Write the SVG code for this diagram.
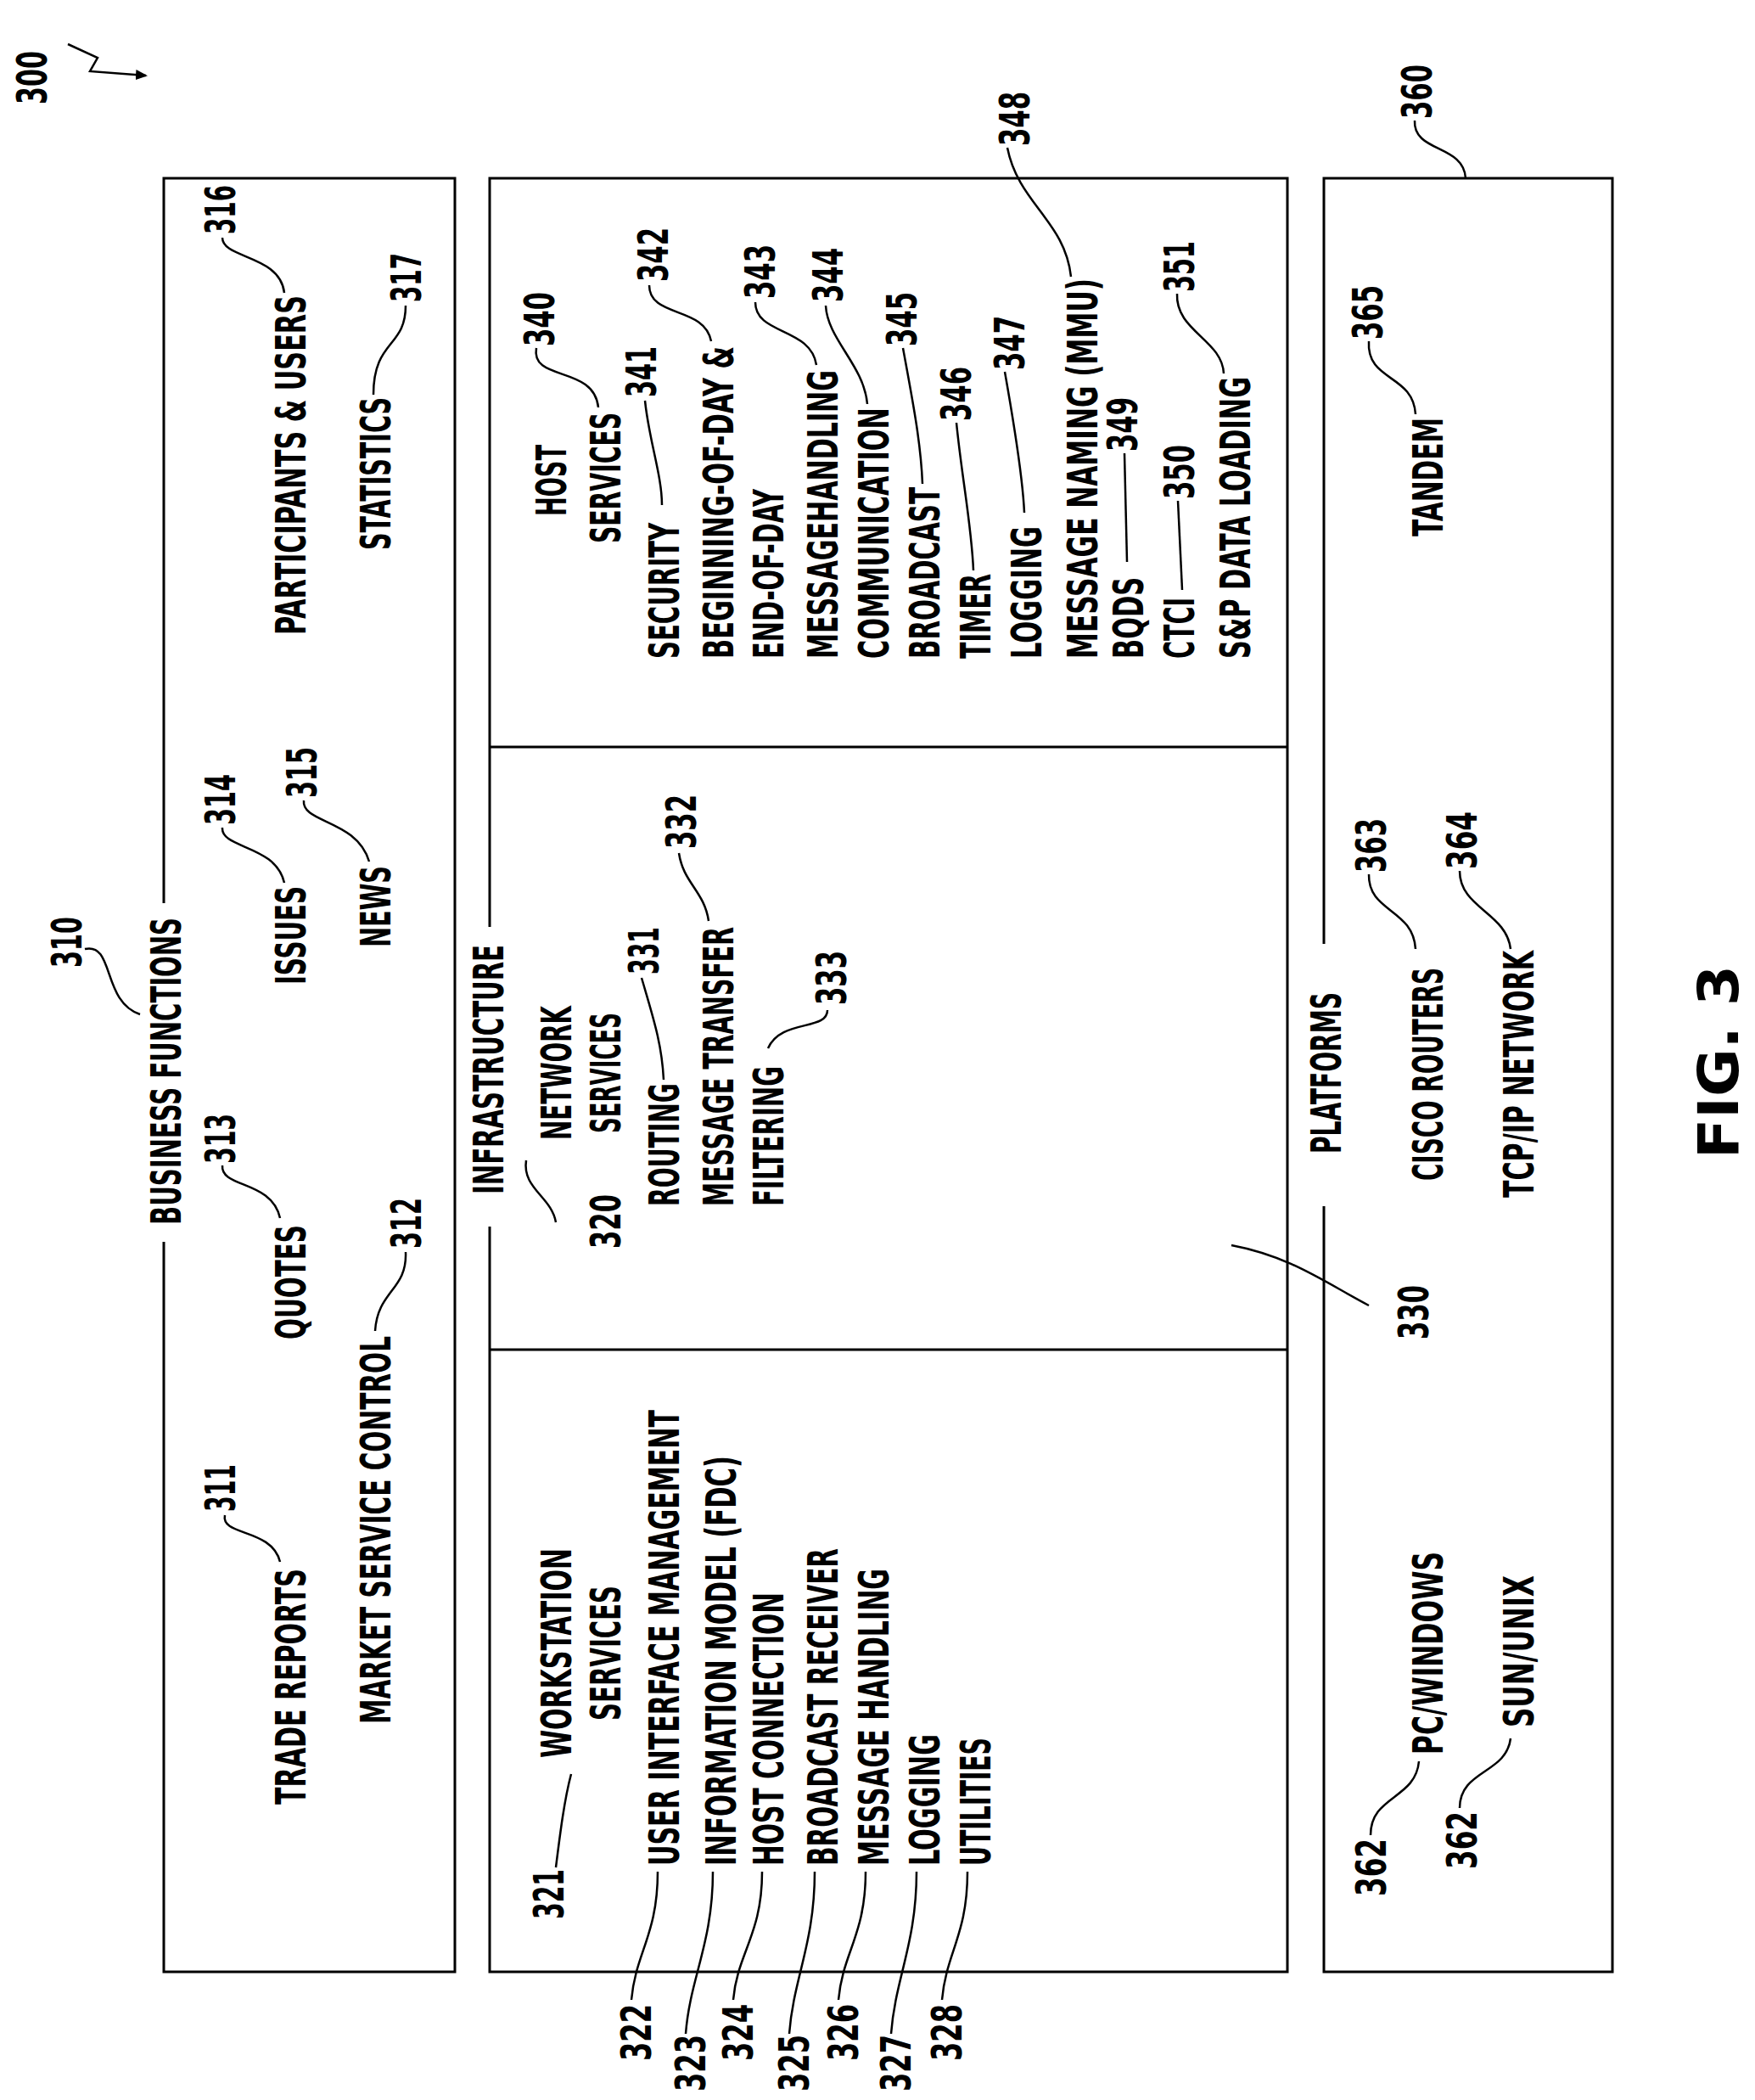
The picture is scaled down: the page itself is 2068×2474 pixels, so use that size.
<svg xmlns="http://www.w3.org/2000/svg" width="2068" height="2474" viewBox="0 0 2068 2474">
<style>
text{font-family:"DejaVu Sans Condensed","DejaVu Sans",sans-serif;font-weight:bold;font-size:50px;fill:#000}
.b{fill:none;stroke:#000;stroke-width:3}
.l{fill:none;stroke:#000;stroke-width:2.5}
.fig{font-size:66px}
</style>
<defs><marker id="ah" markerWidth="14" markerHeight="14" refX="12" refY="6" orient="auto" markerUnits="userSpaceOnUse" viewBox="0 0 14 12"><path d="M0,0 L14,6 L0,12 z" fill="#000"/></marker></defs>
<g id="boxes">
<path class="b" d="M193 1064 V210 H536 V2323 H193 V1463"/>
<path class="b" d="M577 1092 V210 H1517 V2323 H577 V1445"/>
<path class="b" d="M577 880 H1517 M577 1590 H1517"/>
<path class="b" d="M1560 1112 V210 H1900 V2323 H1560 V1421"/>
</g>
<g id="connectors">
<path class="l" d="M80 52 L115 68 L106 84 L172 89" marker-end="url(#ah)"/>
<path class="l" d="M100 1118 C135 1110 120 1180 165 1195"/>
<path class="l" d="M265 1785 C260 1810 320 1800 330 1840"/>
<path class="l" d="M478 1475 C480 1520 445 1520 442 1568"/>
<path class="l" d="M262 1373 C260 1400 320 1390 330 1435"/>
<path class="l" d="M262 975 C260 1000 325 995 335 1040"/>
<path class="l" d="M358 943 C355 970 420 965 435 1015"/>
<path class="l" d="M262 280 C262 305 330 300 335 345"/>
<path class="l" d="M478 360 C478 410 440 400 440 465"/>
<path class="l" d="M620 1367 C615 1400 650 1410 655 1440"/>
<path class="l" d="M756 1152 C770 1200 780 1230 782 1272"/>
<path class="l" d="M800 1005 C805 1040 830 1050 835 1085"/>
<path class="l" d="M975 1190 C975 1215 920 1200 905 1235"/>
<path class="l" d="M1451 1467 C1520 1480 1560 1510 1613 1538"/>
<path class="l" d="M655 2200 C660 2160 665 2120 673 2090"/>
<path class="l" d="M775 2205 C775 2280 749 2300 744 2356"/>
<path class="l" d="M840 2205 C840 2290 813 2330 808 2396"/>
<path class="l" d="M898 2205 C898 2280 869 2300 864 2356"/>
<path class="l" d="M960 2205 C960 2290 935 2330 930 2396"/>
<path class="l" d="M1020 2205 C1020 2280 993 2300 988 2356"/>
<path class="l" d="M1080 2205 C1080 2290 1055 2330 1050 2396"/>
<path class="l" d="M1140 2205 C1140 2280 1115 2300 1110 2356"/>
<path class="l" d="M632 410 C625 450 700 430 705 480"/>
<path class="l" d="M760 472 C765 520 780 560 780 595"/>
<path class="l" d="M765 336 C765 375 830 360 838 402"/>
<path class="l" d="M890 356 C890 395 955 385 962 430"/>
<path class="l" d="M973 360 C975 400 1018 430 1022 476"/>
<path class="l" d="M1064 410 C1075 470 1085 520 1087 570"/>
<path class="l" d="M1127 498 C1133 560 1145 620 1147 672"/>
<path class="l" d="M1184 438 C1195 500 1205 560 1207 604"/>
<path class="l" d="M1187 174 C1200 240 1255 260 1262 326"/>
<path class="l" d="M1325 534 L1328 662"/>
<path class="l" d="M1388 590 L1393 695"/>
<path class="l" d="M1387 346 C1385 390 1440 400 1442 440"/>
<path class="l" d="M1667 142 C1665 180 1725 170 1727 210"/>
<path class="l" d="M1613 402 C1610 450 1665 440 1668 488"/>
<path class="l" d="M1613 1030 C1612 1075 1665 1070 1668 1118"/>
<path class="l" d="M1720 1026 C1720 1070 1775 1075 1780 1118"/>
<path class="l" d="M1615 2162 C1615 2115 1668 2120 1672 2075"/>
<path class="l" d="M1720 2130 C1720 2085 1775 2090 1780 2048"/>
</g>
<g id="business">
<text transform="translate(55,123) rotate(-90)" textLength="63" lengthAdjust="spacingAndGlyphs">300</text>
<text transform="translate(96,1140) rotate(-90)" textLength="60" lengthAdjust="spacingAndGlyphs">310</text>
<text transform="translate(213,1443) rotate(-90)" textLength="362" lengthAdjust="spacingAndGlyphs">BUSINESS FUNCTIONS</text>
<text transform="translate(360,2126) rotate(-90)" textLength="278" lengthAdjust="spacingAndGlyphs">TRADE REPORTS</text>
<text transform="translate(277,1781) rotate(-90)" textLength="56" lengthAdjust="spacingAndGlyphs">311</text>
<text transform="translate(460,2031) rotate(-90)" textLength="457" lengthAdjust="spacingAndGlyphs">MARKET SERVICE CONTROL</text>
<text transform="translate(496,1471) rotate(-90)" textLength="60" lengthAdjust="spacingAndGlyphs">312</text>
<text transform="translate(360,1578) rotate(-90)" textLength="135" lengthAdjust="spacingAndGlyphs">QUOTES</text>
<text transform="translate(277,1371) rotate(-90)" textLength="59" lengthAdjust="spacingAndGlyphs">313</text>
<text transform="translate(360,1160) rotate(-90)" textLength="116" lengthAdjust="spacingAndGlyphs">ISSUES</text>
<text transform="translate(277,972) rotate(-90)" textLength="60" lengthAdjust="spacingAndGlyphs">314</text>
<text transform="translate(460,1116) rotate(-90)" textLength="96" lengthAdjust="spacingAndGlyphs">NEWS</text>
<text transform="translate(373,940) rotate(-90)" textLength="60" lengthAdjust="spacingAndGlyphs">315</text>
<text transform="translate(360,748) rotate(-90)" textLength="400" lengthAdjust="spacingAndGlyphs">PARTICIPANTS &amp; USERS</text>
<text transform="translate(277,276) rotate(-90)" textLength="58" lengthAdjust="spacingAndGlyphs">316</text>
<text transform="translate(460,648) rotate(-90)" textLength="180" lengthAdjust="spacingAndGlyphs">STATISTICS</text>
<text transform="translate(496,356) rotate(-90)" textLength="58" lengthAdjust="spacingAndGlyphs">317</text>
</g>
<g id="infrastructure">
<text transform="translate(593,1407) rotate(-90)" textLength="294" lengthAdjust="spacingAndGlyphs">INFRASTRUCTURE</text>
<text transform="translate(673,1343) rotate(-90)" textLength="158" lengthAdjust="spacingAndGlyphs">NETWORK</text>
<text transform="translate(731,1335) rotate(-90)" textLength="142" lengthAdjust="spacingAndGlyphs">SERVICES</text>
<text transform="translate(731,1471) rotate(-90)" textLength="64" lengthAdjust="spacingAndGlyphs">320</text>
<text transform="translate(800,1421) rotate(-90)" textLength="145" lengthAdjust="spacingAndGlyphs">ROUTING</text>
<text transform="translate(776,1148) rotate(-90)" textLength="56" lengthAdjust="spacingAndGlyphs">331</text>
<text transform="translate(864,1421) rotate(-90)" textLength="329" lengthAdjust="spacingAndGlyphs">MESSAGE TRANSFER</text>
<text transform="translate(820,1000) rotate(-90)" textLength="64" lengthAdjust="spacingAndGlyphs">332</text>
<text transform="translate(923,1421) rotate(-90)" textLength="165" lengthAdjust="spacingAndGlyphs">FILTERING</text>
<text transform="translate(997,1184) rotate(-90)" textLength="64" lengthAdjust="spacingAndGlyphs">333</text>
<text transform="translate(1683,1578) rotate(-90)" textLength="64" lengthAdjust="spacingAndGlyphs">330</text>
</g>
<g id="workstation">
<text transform="translate(673,2071) rotate(-90)" textLength="247" lengthAdjust="spacingAndGlyphs">WORKSTATION</text>
<text transform="translate(731,2027) rotate(-90)" textLength="159" lengthAdjust="spacingAndGlyphs">SERVICES</text>
<text transform="translate(664,2261) rotate(-90)" textLength="59" lengthAdjust="spacingAndGlyphs">321</text>
<text transform="translate(800,2198) rotate(-90)" textLength="537" lengthAdjust="spacingAndGlyphs">USER INTERFACE MANAGEMENT</text>
<text transform="translate(867,2198) rotate(-90)" textLength="483" lengthAdjust="spacingAndGlyphs">INFORMATION MODEL (FDC)</text>
<text transform="translate(923,2198) rotate(-90)" textLength="322" lengthAdjust="spacingAndGlyphs">HOST CONNECTION</text>
<text transform="translate(987,2198) rotate(-90)" textLength="374" lengthAdjust="spacingAndGlyphs">BROADCAST RECEIVER</text>
<text transform="translate(1047,2198) rotate(-90)" textLength="350" lengthAdjust="spacingAndGlyphs">MESSAGE HANDLING</text>
<text transform="translate(1107,2198) rotate(-90)" textLength="155" lengthAdjust="spacingAndGlyphs">LOGGING</text>
<text transform="translate(1167,2198) rotate(-90)" textLength="151" lengthAdjust="spacingAndGlyphs">UTILITIES</text>
<text transform="translate(767,2428) rotate(-90)" textLength="67" lengthAdjust="spacingAndGlyphs">322</text>
<text transform="translate(831,2464) rotate(-90)" textLength="67" lengthAdjust="spacingAndGlyphs">323</text>
<text transform="translate(887,2428) rotate(-90)" textLength="67" lengthAdjust="spacingAndGlyphs">324</text>
<text transform="translate(953,2464) rotate(-90)" textLength="67" lengthAdjust="spacingAndGlyphs">325</text>
<text transform="translate(1011,2428) rotate(-90)" textLength="67" lengthAdjust="spacingAndGlyphs">326</text>
<text transform="translate(1073,2464) rotate(-90)" textLength="67" lengthAdjust="spacingAndGlyphs">327</text>
<text transform="translate(1133,2428) rotate(-90)" textLength="67" lengthAdjust="spacingAndGlyphs">328</text>
</g>
<g id="host">
<text transform="translate(667,608) rotate(-90)" textLength="84" lengthAdjust="spacingAndGlyphs">HOST</text>
<text transform="translate(731,640) rotate(-90)" textLength="154" lengthAdjust="spacingAndGlyphs">SERVICES</text>
<text transform="translate(653,408) rotate(-90)" textLength="64" lengthAdjust="spacingAndGlyphs">340</text>
<text transform="translate(800,776) rotate(-90)" textLength="160" lengthAdjust="spacingAndGlyphs">SECURITY</text>
<text transform="translate(773,468) rotate(-90)" textLength="60" lengthAdjust="spacingAndGlyphs">341</text>
<text transform="translate(864,776) rotate(-90)" textLength="368" lengthAdjust="spacingAndGlyphs">BEGINNING-OF-DAY &amp;</text>
<text transform="translate(787,332) rotate(-90)" textLength="64" lengthAdjust="spacingAndGlyphs">342</text>
<text transform="translate(923,776) rotate(-90)" textLength="200" lengthAdjust="spacingAndGlyphs">END-OF-DAY</text>
<text transform="translate(987,776) rotate(-90)" textLength="340" lengthAdjust="spacingAndGlyphs">MESSAGEHANDLING</text>
<text transform="translate(913,352) rotate(-90)" textLength="64" lengthAdjust="spacingAndGlyphs">343</text>
<text transform="translate(1047,776) rotate(-90)" textLength="296" lengthAdjust="spacingAndGlyphs">COMMUNICATION</text>
<text transform="translate(993,356) rotate(-90)" textLength="64" lengthAdjust="spacingAndGlyphs">344</text>
<text transform="translate(1107,776) rotate(-90)" textLength="202" lengthAdjust="spacingAndGlyphs">BROADCAST</text>
<text transform="translate(1080,408) rotate(-90)" textLength="64" lengthAdjust="spacingAndGlyphs">345</text>
<text transform="translate(1167,776) rotate(-90)" textLength="100" lengthAdjust="spacingAndGlyphs">TIMER</text>
<text transform="translate(1144,496) rotate(-90)" textLength="64" lengthAdjust="spacingAndGlyphs">346</text>
<text transform="translate(1227,776) rotate(-90)" textLength="156" lengthAdjust="spacingAndGlyphs">LOGGING</text>
<text transform="translate(1207,436) rotate(-90)" textLength="64" lengthAdjust="spacingAndGlyphs">347</text>
<text transform="translate(1293,776) rotate(-90)" textLength="448" lengthAdjust="spacingAndGlyphs">MESSAGE NAMING (MMU)</text>
<text transform="translate(1213,172) rotate(-90)" textLength="64" lengthAdjust="spacingAndGlyphs">348</text>
<text transform="translate(1347,776) rotate(-90)" textLength="96" lengthAdjust="spacingAndGlyphs">BQDS</text>
<text transform="translate(1340,532) rotate(-90)" textLength="64" lengthAdjust="spacingAndGlyphs">349</text>
<text transform="translate(1407,776) rotate(-90)" textLength="72" lengthAdjust="spacingAndGlyphs">CTCI</text>
<text transform="translate(1407,588) rotate(-90)" textLength="64" lengthAdjust="spacingAndGlyphs">350</text>
<text transform="translate(1473,776) rotate(-90)" textLength="332" lengthAdjust="spacingAndGlyphs">S&amp;P DATA LOADING</text>
<text transform="translate(1407,344) rotate(-90)" textLength="60" lengthAdjust="spacingAndGlyphs">351</text>
</g>
<g id="platforms">
<text transform="translate(1580,1359) rotate(-90)" textLength="190" lengthAdjust="spacingAndGlyphs">PLATFORMS</text>
<text transform="translate(1700,1391) rotate(-90)" textLength="251" lengthAdjust="spacingAndGlyphs">CISCO ROUTERS</text>
<text transform="translate(1633,1028) rotate(-90)" textLength="64" lengthAdjust="spacingAndGlyphs">363</text>
<text transform="translate(1807,1411) rotate(-90)" textLength="291" lengthAdjust="spacingAndGlyphs">TCP/IP NETWORK</text>
<text transform="translate(1740,1024) rotate(-90)" textLength="68" lengthAdjust="spacingAndGlyphs">364</text>
<text transform="translate(1700,632) rotate(-90)" textLength="140" lengthAdjust="spacingAndGlyphs">TANDEM</text>
<text transform="translate(1629,400) rotate(-90)" textLength="64" lengthAdjust="spacingAndGlyphs">365</text>
<text transform="translate(1687,140) rotate(-90)" textLength="64" lengthAdjust="spacingAndGlyphs">360</text>
<text transform="translate(1700,2067) rotate(-90)" textLength="239" lengthAdjust="spacingAndGlyphs">PC/WINDOWS</text>
<text transform="translate(1633,2234) rotate(-90)" textLength="68" lengthAdjust="spacingAndGlyphs">362</text>
<text transform="translate(1807,2035) rotate(-90)" textLength="179" lengthAdjust="spacingAndGlyphs">SUN/UNIX</text>
<text transform="translate(1740,2202) rotate(-90)" textLength="68" lengthAdjust="spacingAndGlyphs">362</text>
</g>
<g id="caption">
<text class="fig" transform="translate(2048,1365) rotate(-90)" textLength="228" lengthAdjust="spacingAndGlyphs">FIG. 3</text>
</g>
</svg>
